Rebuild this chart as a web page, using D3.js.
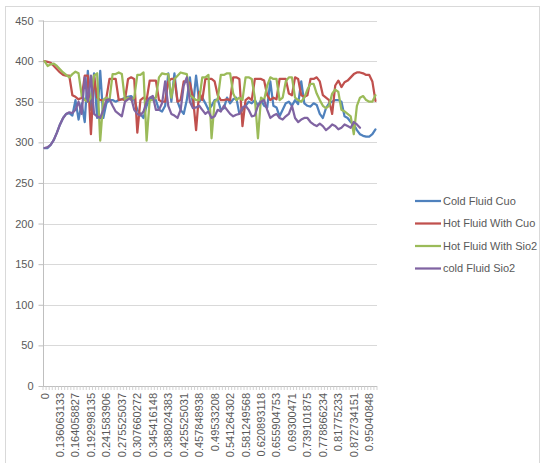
<!DOCTYPE html>
<html><head><meta charset="utf-8">
<script src="https://cdn.jsdelivr.net/npm/d3@7"></script>
<style>body{margin:0;background:#fff}svg{display:block}text{font-family:"Liberation Sans",Arial,sans-serif;fill:#595959}</style>
</head><body>
<svg id="c" width="546" height="463"></svg>
<script>
const seriesNames = ["Cold Fluid Cuo","Hot Fluid With Cuo","Hot Fluid With Sio2","cold Fluid Sio2"];
const seriesColors = ["#4F81BD","#C0504D","#9BBB59","#8064A2"];
const xLabels = ["0","0.136063133","0.164058827","0.192998135","0.241583906","0.275525037","0.307660272","0.345416148","0.388024383","0.425525031","0.457848938","0.49533208","0.541264302","0.581249568","0.620893118","0.655904753","0.69300471","0.739101875","0.778866234","0.81775233","0.872734151","0.95040848"];
const labelEvery = 5;
const yTicks = [0,50,100,150,200,250,300,350,400,450];

const coldCuo = [293,293,297,303,312,322,330,335,336,333,352,328,348,325,388,340,385,330,388,330,348,352,352,350,352,353,355,356,357,352,340,335,330,345,352,356,
352,340,338,345,385,350,385,350,340,335,352,380,345,382,350,355,348,340,345,352,353,340,342,355,348,353,355,335,340,345,350,348,352,345,352,345,
343,375,345,343,332,340,348,350,345,352,347,375,348,345,344,348,346,335,330,342,348,350,352,352,350,332,330,325,322,315,310,308,307,307,310,316];
const hotCuo = [400,399,398,394,390,386,383,382,382,358,356,353,355,382,382,310,382,355,352,352,355,378,378,378,352,353,352,378,380,378,312,352,355,352,376,376,
376,352,350,350,375,378,378,350,352,375,375,373,355,315,362,352,378,378,378,375,358,352,352,353,352,380,380,378,320,352,355,352,378,378,378,376,
358,352,355,353,378,378,378,360,358,380,378,358,356,358,378,378,380,375,358,355,352,335,370,376,368,374,376,380,384,386,386,385,383,383,375,351];
const hotSio2 = [400,394,396,397,394,390,386,383,380,384,387,385,358,352,350,355,382,385,302,352,355,352,384,384,386,384,352,355,352,355,383,383,386,302,352,352,
355,380,385,384,384,355,378,382,386,385,384,358,355,352,352,380,380,383,305,350,353,383,383,385,385,360,352,355,352,380,380,378,355,305,355,352,
370,380,378,378,352,355,375,380,380,355,352,350,355,365,372,372,360,352,345,342,345,360,365,362,340,338,335,332,310,345,355,357,352,350,350,358];
const coldSio2 = [293,294,297,303,312,322,330,335,337,336,340,350,335,380,350,382,335,332,330,340,352,353,345,338,335,332,350,353,355,340,335,333,338,350,355,357,
340,340,348,375,345,335,333,330,340,370,380,350,342,343,345,340,335,338,330,332,340,338,345,340,335,332,334,335,343,345,340,332,333,345,350,352,
340,330,333,335,330,328,332,335,345,330,325,328,330,330,325,322,320,323,320,315,318,322,320,316,318,322,320,318,325,322,318,null,null,null,null,null];
const allSeries = [coldCuo, hotCuo, hotSio2, coldSio2];

const svg = d3.select("#c");
const plot = {left:43, right:377, top:20.5, bottom:386};
const N = coldCuo.length;
const idx = d3.range(N);

svg.append("rect").attr("x",5.5).attr("y",6.5).attr("width",534).attr("height",480)
  .attr("fill","#fff").attr("stroke","#d9d9d9");

const x = d3.scaleBand().domain(idx).range([plot.left, plot.right]).paddingInner(0).paddingOuter(0);
const xc = i => x(i) + x.bandwidth()/2;
const y = d3.scaleLinear().domain([0,450]).range([plot.bottom, plot.top]);

svg.append("g").selectAll("line").data(yTicks.filter(v=>v>0)).join("line")
  .attr("x1",plot.left).attr("x2",plot.right)
  .attr("y1",d=>Math.round(y(d))+0.5).attr("y2",d=>Math.round(y(d))+0.5)
  .attr("stroke","#d9d9d9");

const ya = svg.append("g").attr("transform",`translate(${plot.left+0.5},0)`)
  .call(d3.axisLeft(y).tickValues(yTicks).tickSize(5).tickPadding(5));
ya.select(".domain").attr("stroke","#bfbfbf").attr("d",`M0,${plot.top}V${plot.bottom}`);
ya.selectAll(".tick line").attr("stroke","#bfbfbf");
ya.selectAll(".tick text").style("font-size","11px").style("fill","#595959").attr("font-family",null);

const xg = svg.append("g");
xg.append("line").attr("x1",plot.left).attr("x2",plot.right)
  .attr("y1",Math.round(plot.bottom)+0.5).attr("y2",Math.round(plot.bottom)+0.5).attr("stroke","#bfbfbf");
xg.selectAll("line.t").data(d3.range(N+1)).join("line").attr("class","t")
  .attr("x1",i=>i<N?x(i):plot.right).attr("x2",i=>i<N?x(i):plot.right)
  .attr("y1",plot.bottom).attr("y2",plot.bottom+4).attr("stroke","#c8c8c8").attr("stroke-width",0.8);
xg.selectAll("text").data(xLabels).join("text")
  .attr("transform",(d,i)=>`translate(${xc(i*labelEvery)+4},${plot.bottom+7}) rotate(-90)`)
  .attr("text-anchor","end").style("font-size","11px").text(d=>d);

const line = d3.line().defined(d=>d!=null).x((d,i)=>xc(i)).y(d=>y(d));
svg.append("g").selectAll("path").data(allSeries).join("path")
  .attr("d",d=>line(d)).attr("fill","none")
  .attr("stroke",(d,i)=>seriesColors[i]).attr("stroke-width",2.25)
  .attr("stroke-linejoin","round").attr("stroke-linecap","round");

const lg = svg.append("g").selectAll("g").data(seriesNames).join("g")
  .attr("transform",(d,i)=>`translate(415,${201+i*22.5})`);
lg.append("line").attr("x1",0).attr("x2",26).attr("stroke",(d,i)=>seriesColors[i]).attr("stroke-width",2.25);
lg.append("text").attr("x",28).attr("dy","0.35em").style("font-size","11px").text(d=>d);
</script>
</body></html>
